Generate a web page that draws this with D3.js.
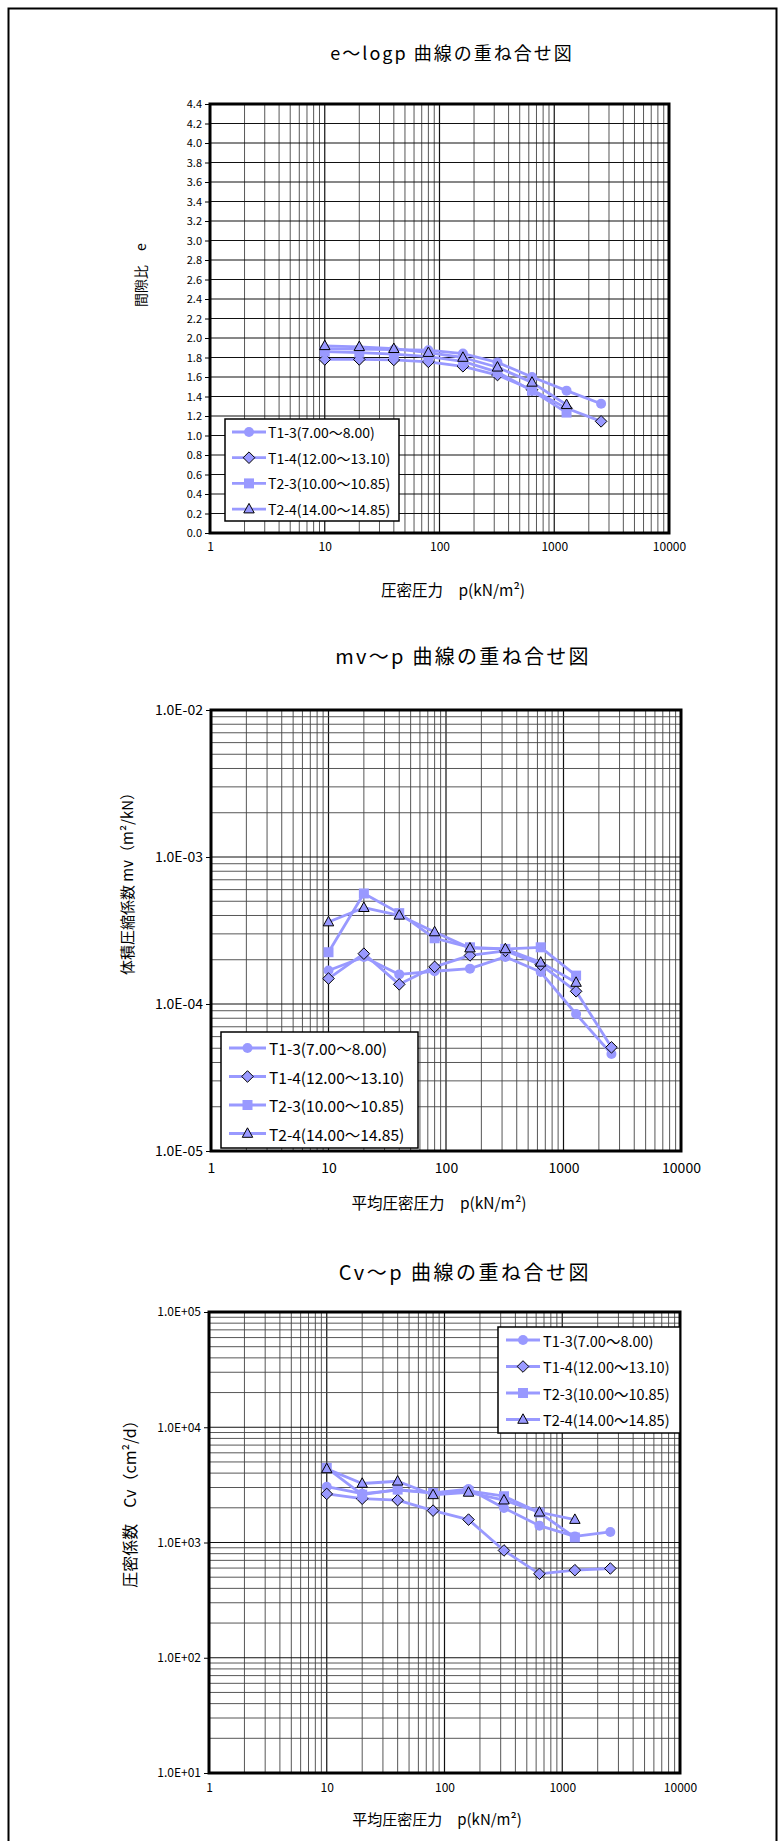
<!DOCTYPE html>
<html>
<head>
<meta charset="utf-8">
<script src="https://cdn.jsdelivr.net/npm/d3@7/dist/d3.min.js"></script>
<style>
  body { margin: 0; background: #fff; }
  svg { display: block; }
  text { font-family: "Noto Sans CJK JP", "Noto Sans", sans-serif; fill: #000; }
</style>
</head>
<body>
<svg id="sheet" width="783" height="1841"></svg>
<script>
// ---- data ----------------------------------------------------------
const pressure = [10, 20, 40, 80, 160, 320, 640, 1280, 2560];
const seriesNames = ["T1-3(7.00～8.00)", "T1-4(12.00～13.10)", "T2-3(10.00～10.85)", "T2-4(14.00～14.85)"];
const seriesMarkers = ["circle", "diamond", "square", "triangle"];

// void ratio e
const eT13 = [1.89, 1.885, 1.88, 1.875, 1.84, 1.75, 1.60, 1.46, 1.325];
const eT14 = [1.78, 1.78, 1.775, 1.755, 1.71, 1.62, 1.47, 1.28, 1.145];
const eT23 = [1.86, 1.85, 1.835, 1.81, 1.76, 1.65, 1.46, 1.235];
const eT24 = [1.92, 1.91, 1.89, 1.85, 1.80, 1.70, 1.545, 1.315];

// coefficient of volume compressibility mv (m2/kN)
const mvT13 = [1.69e-4, 2.09e-4, 1.59e-4, 1.67e-4, 1.74e-4, 2.09e-4, 1.65e-4, 8.55e-5, 4.57e-5];
const mvT14 = [1.49e-4, 2.20e-4, 1.36e-4, 1.79e-4, 2.14e-4, 2.30e-4, 1.85e-4, 1.22e-4, 5.07e-5];
const mvT23 = [2.25e-4, 5.65e-4, 4.15e-4, 2.80e-4, 2.43e-4, 2.37e-4, 2.43e-4, 1.56e-4];
const mvT24 = [3.61e-4, 4.52e-4, 4.01e-4, 3.09e-4, 2.40e-4, 2.37e-4, 1.92e-4, 1.40e-4];

// coefficient of consolidation Cv (cm2/d)
const cvT13 = [3050, 2650, 2850, 2700, 2910, 1995, 1400, 1130, 1235];
const cvT14 = [2640, 2400, 2330, 1890, 1580, 853, 535, 575, 595];
const cvT23 = [4440, 2600, 2880, 2690, 2800, 2520, 1820, 1105];
const cvT24 = [4350, 3250, 3400, 2590, 2720, 2330, 1830, 1580];

// tick labels
const xTickValues = [1, 10, 100, 1000, 10000];
const xTickLabels = ["1", "10", "100", "1000", "10000"];
const eTickValues = [0, 0.2, 0.4, 0.6, 0.8, 1.0, 1.2, 1.4, 1.6, 1.8, 2.0, 2.2, 2.4, 2.6, 2.8, 3.0, 3.2, 3.4, 3.6, 3.8, 4.0, 4.2, 4.4];
const eTickLabels = ["0.0", "0.2", "0.4", "0.6", "0.8", "1.0", "1.2", "1.4", "1.6", "1.8", "2.0", "2.2", "2.4", "2.6", "2.8", "3.0", "3.2", "3.4", "3.6", "3.8", "4.0", "4.2", "4.4"];
const mvTickValues = [1e-5, 1e-4, 1e-3, 1e-2];
const mvTickLabels = ["1.0E-05", "1.0E-04", "1.0E-03", "1.0E-02"];
const cvTickValues = [1e1, 1e2, 1e3, 1e4, 1e5];
const cvTickLabels = ["1.0E+01", "1.0E+02", "1.0E+03", "1.0E+04", "1.0E+05"];

// ---- drawing -------------------------------------------------------
const SERIES_COLOR = "#9999ff";
const svg = d3.select("#sheet");

// sheet frame (open at the bottom edge of the page)
svg.append("path")
  .attr("d", "M8.5,1841 V8.5 H776.5 V1841")
  .attr("fill", "none").attr("stroke", "#000").attr("stroke-width", 2);

function markerPath(type, size) {
  switch (type) {
    case "circle": return d3.symbol(d3.symbolCircle, size * size * Math.PI / 4)();
    case "square": return d3.symbol(d3.symbolSquare, size * size)();
    case "diamond": { const h = size / 2 + 0.8; return `M0,${-h}L${h},0L0,${h}L${-h},0Z`; }
    case "triangle": { const h = size * 0.95; return `M0,${-h * 0.6}L${h * 0.55},${h * 0.4}L${-h * 0.55},${h * 0.4}Z`; }
  }
}
function markerStroke(type) { return (type === "diamond" || type === "triangle") ? "#000" : "none"; }

function logGridValues(lo, hi) {
  const vals = [];
  for (let d = Math.round(Math.log10(lo)); d < Math.round(Math.log10(hi)); d++) {
    for (let k = 1; k <= 9; k++) vals.push({ v: k * Math.pow(10, d), major: k === 1 });
  }
  vals.push({ v: hi, major: true });
  return vals;
}

function drawChart(cfg) {
  const g = svg.append("g");
  const x = d3.scaleLog().domain([1, 10000]).range([cfg.plot.x0, cfg.plot.x1]);
  const y = (cfg.yLog ? d3.scaleLog() : d3.scaleLinear()).domain(cfg.yDomain).range([cfg.plot.y1, cfg.plot.y0]);

  // chart title
  g.append("text").attr("x", cfg.title.x).attr("y", cfg.title.y)
    .attr("text-anchor", "middle").attr("font-size", cfg.title.size)
    .attr("letter-spacing", cfg.title.spacing).text(cfg.title.text);

  // grid
  const grid = g.append("g");
  logGridValues(1, 10000).forEach(d => {
    grid.append("line").attr("x1", x(d.v)).attr("x2", x(d.v))
      .attr("y1", cfg.plot.y0).attr("y2", cfg.plot.y1)
      .attr("stroke", d.major ? "#111" : "#444").attr("stroke-width", d.major ? 1.2 : 0.9);
  });
  const yGrid = cfg.yLog ? logGridValues(cfg.yDomain[0], cfg.yDomain[1]) : cfg.yTickValues.map(v => ({ v, major: true }));
  yGrid.forEach(d => {
    grid.append("line").attr("x1", cfg.plot.x0).attr("x2", cfg.plot.x1)
      .attr("y1", y(d.v)).attr("y2", y(d.v))
      .attr("stroke", d.major ? "#111" : "#444").attr("stroke-width", d.major ? 1.2 : 0.9);
  });

  // y axis ticks and labels
  const yAxis = d3.axisLeft(y).tickValues(cfg.yTickValues)
    .tickFormat((v, i) => cfg.yTickLabels[i]).tickSizeInner(5).tickSizeOuter(0).tickPadding(3);
  const ya = g.append("g").attr("transform", `translate(${cfg.plot.x0},0)`).call(yAxis);
  ya.select(".domain").remove();
  ya.selectAll("text").attr("font-size", cfg.yTickSize).attr("font-family", cfg.tickFont);

  // x axis labels
  const xAxis = d3.axisBottom(x).tickValues(xTickValues)
    .tickFormat((v, i) => xTickLabels[i]).tickSize(0).tickPadding(cfg.xTickPad);
  const xa = g.append("g").attr("transform", `translate(0,${cfg.plot.y1})`).call(xAxis);
  xa.select(".domain").remove();
  xa.selectAll("text").attr("font-size", cfg.xTickSize).attr("font-family", cfg.tickFont);

  // axis titles
  g.append("text").attr("x", cfg.xTitle.x).attr("y", cfg.xTitle.y)
    .attr("text-anchor", "middle").attr("font-size", cfg.xTitle.size).text(cfg.xTitle.text);
  g.append("text").attr("transform", `translate(${cfg.yTitle.x},${cfg.yTitle.y}) rotate(-90)`)
    .attr("text-anchor", "middle").attr("dominant-baseline", "central")
    .attr("font-size", cfg.yTitle.size).text(cfg.yTitle.text);

  // series lines and markers
  const line = d3.line().x(d => x(d[0])).y(d => y(d[1]));
  cfg.series.forEach((vals, si) => {
    const pts = vals.map((v, i) => [pressure[i], v]);
    g.append("path").attr("d", line(pts)).attr("fill", "none")
      .attr("stroke", SERIES_COLOR).attr("stroke-width", 2.8).attr("stroke-linejoin", "round");
    const type = seriesMarkers[si];
    g.selectAll(null).data(pts).join("path")
      .attr("transform", d => `translate(${x(d[0])},${y(d[1])})`)
      .attr("d", markerPath(type, 10))
      .attr("fill", SERIES_COLOR).attr("stroke", markerStroke(type)).attr("stroke-width", 1);
  });

  // plot frame
  g.append("rect").attr("x", cfg.plot.x0).attr("y", cfg.plot.y0)
    .attr("width", cfg.plot.x1 - cfg.plot.x0).attr("height", cfg.plot.y1 - cfg.plot.y0)
    .attr("fill", "none").attr("stroke", "#000").attr("stroke-width", 3);

  // legend
  const L = cfg.legend;
  const lg = g.append("g");
  lg.append("rect").attr("x", L.x).attr("y", L.y).attr("width", L.w).attr("height", L.h)
    .attr("fill", "#fff").attr("stroke", "#000").attr("stroke-width", 1.5);
  seriesNames.forEach((name, i) => {
    const cy = L.y + L.firstRow + i * L.rowGap;
    lg.append("line").attr("x1", L.x + L.lineX0).attr("x2", L.x + L.lineX1)
      .attr("y1", cy).attr("y2", cy).attr("stroke", SERIES_COLOR).attr("stroke-width", 2.8);
    const type = seriesMarkers[i];
    lg.append("path").attr("transform", `translate(${L.x + (L.lineX0 + L.lineX1) / 2},${cy})`)
      .attr("d", markerPath(type, 10)).attr("fill", SERIES_COLOR)
      .attr("stroke", markerStroke(type)).attr("stroke-width", 1);
    lg.append("text").attr("x", L.x + L.textX).attr("y", cy).attr("dominant-baseline", "central")
      .attr("font-size", L.size).attr("font-family", cfg.tickFont).text(name);
  });
}

// e ~ log p
drawChart({
  plot: { x0: 210, x1: 669, y0: 104, y1: 533 },
  yLog: false, yDomain: [0, 4.4],
  yTickValues: eTickValues, yTickLabels: eTickLabels,
  yTickSize: 11, xTickSize: 12, xTickPad: 9,
  tickFont: "'Liberation Sans', sans-serif",
  title: { x: 452, y: 60, size: 18, spacing: 2, text: "e～logp 曲線の重ね合せ図" },
  xTitle: { x: 453, y: 596, size: 15.5, text: "圧密圧力　p(kN/m²)" },
  yTitle: { x: 140, y: 275, size: 14, text: "間隙比　e" },
  legend: { x: 225, y: 419, w: 174, h: 102, firstRow: 13, rowGap: 25.7, lineX0: 7, lineX1: 41, textX: 43, size: 14 },
  series: [eT13, eT14, eT23, eT24]
});

// mv ~ p
drawChart({
  plot: { x0: 211, x1: 681, y0: 710, y1: 1151 },
  yLog: true, yDomain: [1e-5, 1e-2],
  yTickValues: mvTickValues, yTickLabels: mvTickLabels,
  yTickSize: 14, xTickSize: 14, xTickPad: 12,
  tickFont: "'Liberation Sans', sans-serif",
  title: { x: 463, y: 664, size: 20, spacing: 2.3, text: "mv～p 曲線の重ね合せ図" },
  xTitle: { x: 439, y: 1209, size: 15.5, text: "平均圧密圧力　p(kN/m²)" },
  yTitle: { x: 126, y: 880, size: 15, text: "体積圧縮係数 mv（m²/kN）" },
  legend: { x: 221, y: 1032, w: 197, h: 116, firstRow: 16, rowGap: 28.5, lineX0: 8, lineX1: 45, textX: 48, size: 15.5 },
  series: [mvT13, mvT14, mvT23, mvT24]
});

// Cv ~ p
drawChart({
  plot: { x0: 209, x1: 680, y0: 1312, y1: 1773 },
  yLog: true, yDomain: [1e1, 1e5],
  yTickValues: cvTickValues, yTickLabels: cvTickLabels,
  yTickSize: 12, xTickSize: 12, xTickPad: 10,
  tickFont: "'Liberation Sans', sans-serif",
  title: { x: 465, y: 1280, size: 20, spacing: 2.5, text: "Cv～p 曲線の重ね合せ図" },
  xTitle: { x: 437, y: 1825, size: 15, text: "平均圧密圧力　p(kN/m²)" },
  yTitle: { x: 129, y: 1500, size: 16, text: "圧密係数　Cv（cm²/d）" },
  legend: { x: 498, y: 1327, w: 182, h: 106, firstRow: 13, rowGap: 26.5, lineX0: 8, lineX1: 42, textX: 45, size: 14.5 },
  series: [cvT13, cvT14, cvT23, cvT24]
});
</script>
</body>
</html>
